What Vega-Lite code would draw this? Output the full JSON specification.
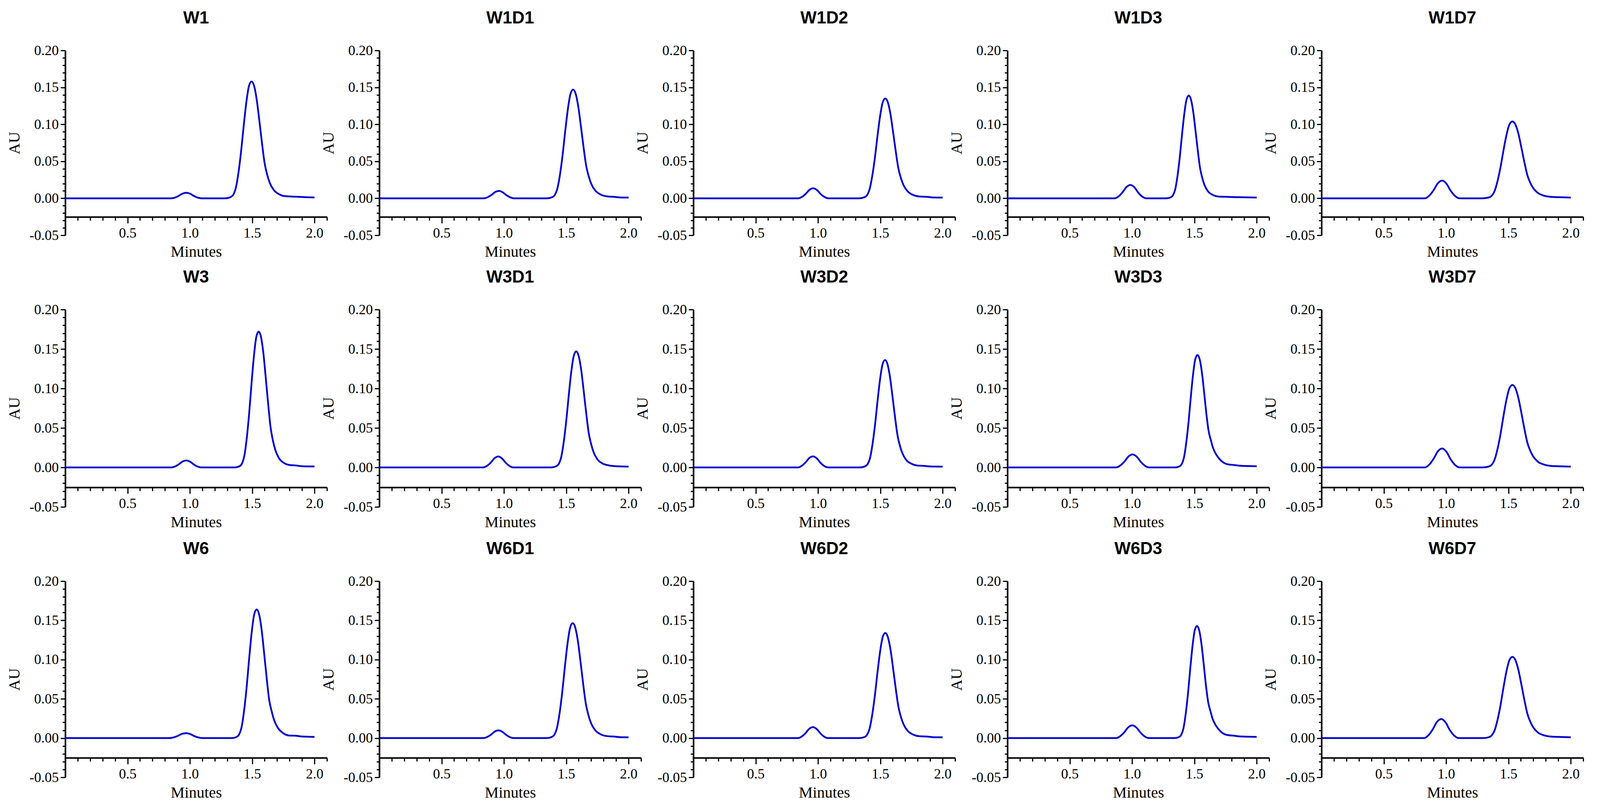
{
  "$schema": "https://vega.github.io/schema/vega-lite/v6.json",
  "description": "HPLC chromatograms, 15 samples, AU vs minutes.",
  "background": "white",
  "padding": {"left": 17, "top": 25, "right": 5, "bottom": 5},
  "config": {
    "view": {"stroke": null},
    "axis": {
      "grid": false,
      "domainColor": "black",
      "domainWidth": 4,
      "tickColor": "black",
      "tickWidth": 3,
      "labelColor": "black",
      "labelFont": "Liberation Serif",
      "labelFontSize": 36,
      "labelFlush": false,
      "labelOverlap": false,
      "labelBound": false,
      "titleFont": "Liberation Serif",
      "titleFontSize": 40,
      "titleFontWeight": "normal",
      "titleColor": "black"
    },
    "axisX": {"labelPadding": 8, "titlePadding": 10},
    "axisY": {"labelPadding": 5, "titlePadding": 18},
    "title": {"font": "Liberation Sans", "fontSize": 44, "fontWeight": "bold", "color": "black", "frame": "group", "offset": 42},
    "line": {"color": "#0000CC", "strokeWidth": 4.5, "interpolate": "monotone"}
  },
  "datasets": {
    "W1": [
      {"t": 0, "v": 0}, {"t": 0.852, "v": 0}, {"t": 0.882, "v": 0.0011}, {"t": 0.912, "v": 0.0034}, {"t": 0.942, "v": 0.0064}, {"t": 0.972, "v": 0.0075}, {"t": 1.002, "v": 0.0062}, {"t": 1.032, "v": 0.0032}, {"t": 1.062, "v": 0.001}, {"t": 1.092, "v": 0},
      {"t": 1.285, "v": 0}, {"t": 1.327, "v": 0.0016}, {"t": 1.348, "v": 0.0047}, {"t": 1.369, "v": 0.0142}, {"t": 1.39, "v": 0.0348}, {"t": 1.411, "v": 0.0632}, {"t": 1.432, "v": 0.098}, {"t": 1.453, "v": 0.1296}, {"t": 1.474, "v": 0.1517}, {"t": 1.495, "v": 0.158}, {"t": 1.516, "v": 0.1517}, {"t": 1.537, "v": 0.1327}, {"t": 1.558, "v": 0.1043}, {"t": 1.579, "v": 0.0743}, {"t": 1.6, "v": 0.0474}, {"t": 1.621, "v": 0.0316}, {"t": 1.642, "v": 0.0205}, {"t": 1.674, "v": 0.0111}, {"t": 1.716, "v": 0.0055}, {"t": 1.768, "v": 0.0028}, {"t": 1.85, "v": 0.0022}, {"t": 1.93, "v": 0.0015}, {"t": 2.0, "v": 0.0012}
    ],
    "W1D1": [
      {"t": 0, "v": 0}, {"t": 0.84, "v": 0}, {"t": 0.87, "v": 0.0015}, {"t": 0.9, "v": 0.0045}, {"t": 0.93, "v": 0.0085}, {"t": 0.96, "v": 0.01}, {"t": 0.99, "v": 0.0082}, {"t": 1.02, "v": 0.0042}, {"t": 1.05, "v": 0.0013}, {"t": 1.08, "v": 0},
      {"t": 1.345, "v": 0}, {"t": 1.387, "v": 0.0015}, {"t": 1.408, "v": 0.0044}, {"t": 1.429, "v": 0.0132}, {"t": 1.45, "v": 0.0323}, {"t": 1.471, "v": 0.0588}, {"t": 1.492, "v": 0.0911}, {"t": 1.513, "v": 0.1205}, {"t": 1.534, "v": 0.1411}, {"t": 1.555, "v": 0.147}, {"t": 1.576, "v": 0.1411}, {"t": 1.597, "v": 0.1235}, {"t": 1.618, "v": 0.097}, {"t": 1.639, "v": 0.0691}, {"t": 1.66, "v": 0.0441}, {"t": 1.681, "v": 0.0294}, {"t": 1.702, "v": 0.0191}, {"t": 1.734, "v": 0.0103}, {"t": 1.776, "v": 0.0051}, {"t": 1.828, "v": 0.0026}, {"t": 1.88, "v": 0.002}, {"t": 1.93, "v": 0.0012}, {"t": 2.0, "v": 0.001}
    ],
    "W1D2": [
      {"t": 0, "v": 0}, {"t": 0.842, "v": 0}, {"t": 0.872, "v": 0.002}, {"t": 0.902, "v": 0.0061}, {"t": 0.932, "v": 0.0115}, {"t": 0.962, "v": 0.0135}, {"t": 0.992, "v": 0.0111}, {"t": 1.022, "v": 0.0057}, {"t": 1.052, "v": 0.0018}, {"t": 1.082, "v": 0},
      {"t": 1.33, "v": 0}, {"t": 1.372, "v": 0.0014}, {"t": 1.393, "v": 0.0041}, {"t": 1.414, "v": 0.0122}, {"t": 1.435, "v": 0.0297}, {"t": 1.456, "v": 0.054}, {"t": 1.477, "v": 0.0837}, {"t": 1.498, "v": 0.1107}, {"t": 1.519, "v": 0.1296}, {"t": 1.54, "v": 0.135}, {"t": 1.561, "v": 0.1296}, {"t": 1.582, "v": 0.1134}, {"t": 1.603, "v": 0.0891}, {"t": 1.624, "v": 0.0635}, {"t": 1.645, "v": 0.0405}, {"t": 1.666, "v": 0.027}, {"t": 1.687, "v": 0.0176}, {"t": 1.719, "v": 0.0095}, {"t": 1.761, "v": 0.0047}, {"t": 1.813, "v": 0.0024}, {"t": 1.87, "v": 0.002}, {"t": 1.92, "v": 0.0012}, {"t": 2.0, "v": 0.001}
    ],
    "W1D3": [
      {"t": 0, "v": 0}, {"t": 0.861, "v": 0}, {"t": 0.893, "v": 0.0027}, {"t": 0.924, "v": 0.0081}, {"t": 0.956, "v": 0.0153}, {"t": 0.987, "v": 0.018}, {"t": 1.019, "v": 0.0148}, {"t": 1.05, "v": 0.0076}, {"t": 1.082, "v": 0.0023}, {"t": 1.113, "v": 0},
      {"t": 1.275, "v": 0}, {"t": 1.311, "v": 0.0014}, {"t": 1.329, "v": 0.0042}, {"t": 1.347, "v": 0.0125}, {"t": 1.365, "v": 0.0306}, {"t": 1.383, "v": 0.0556}, {"t": 1.401, "v": 0.0862}, {"t": 1.419, "v": 0.114}, {"t": 1.437, "v": 0.1334}, {"t": 1.455, "v": 0.139}, {"t": 1.473, "v": 0.1334}, {"t": 1.491, "v": 0.1168}, {"t": 1.509, "v": 0.0917}, {"t": 1.527, "v": 0.0653}, {"t": 1.545, "v": 0.0417}, {"t": 1.563, "v": 0.0278}, {"t": 1.581, "v": 0.0181}, {"t": 1.608, "v": 0.0097}, {"t": 1.644, "v": 0.0049}, {"t": 1.689, "v": 0.0025}, {"t": 1.75, "v": 0.002}, {"t": 1.85, "v": 0.0015}, {"t": 2.0, "v": 0.001}
    ],
    "W1D7": [
      {"t": 0, "v": 0}, {"t": 0.83, "v": 0}, {"t": 0.865, "v": 0.0036}, {"t": 0.899, "v": 0.0108}, {"t": 0.934, "v": 0.0204}, {"t": 0.968, "v": 0.024}, {"t": 1.003, "v": 0.0197}, {"t": 1.037, "v": 0.0101}, {"t": 1.072, "v": 0.0031}, {"t": 1.106, "v": 0},
      {"t": 1.292, "v": 0}, {"t": 1.34, "v": 0.001}, {"t": 1.364, "v": 0.0031}, {"t": 1.388, "v": 0.0094}, {"t": 1.412, "v": 0.0229}, {"t": 1.436, "v": 0.0416}, {"t": 1.46, "v": 0.0645}, {"t": 1.484, "v": 0.0853}, {"t": 1.508, "v": 0.0998}, {"t": 1.532, "v": 0.104}, {"t": 1.556, "v": 0.0998}, {"t": 1.58, "v": 0.0874}, {"t": 1.604, "v": 0.0686}, {"t": 1.628, "v": 0.0489}, {"t": 1.652, "v": 0.0312}, {"t": 1.676, "v": 0.0208}, {"t": 1.7, "v": 0.0135}, {"t": 1.736, "v": 0.0073}, {"t": 1.784, "v": 0.0036}, {"t": 1.844, "v": 0.0019}, {"t": 1.9, "v": 0.0015}, {"t": 2.0, "v": 0.001}
    ],
    "W3": [
      {"t": 0, "v": 0}, {"t": 0.852, "v": 0}, {"t": 0.882, "v": 0.0013}, {"t": 0.912, "v": 0.004}, {"t": 0.942, "v": 0.0075}, {"t": 0.972, "v": 0.0088}, {"t": 1.002, "v": 0.0072}, {"t": 1.032, "v": 0.0037}, {"t": 1.062, "v": 0.0011}, {"t": 1.092, "v": 0},
      {"t": 1.362, "v": 0}, {"t": 1.4, "v": 0.0017}, {"t": 1.419, "v": 0.0052}, {"t": 1.438, "v": 0.0155}, {"t": 1.457, "v": 0.0378}, {"t": 1.476, "v": 0.0688}, {"t": 1.495, "v": 0.1066}, {"t": 1.514, "v": 0.141}, {"t": 1.533, "v": 0.1651}, {"t": 1.552, "v": 0.172}, {"t": 1.571, "v": 0.1651}, {"t": 1.59, "v": 0.1445}, {"t": 1.609, "v": 0.1135}, {"t": 1.628, "v": 0.0808}, {"t": 1.647, "v": 0.0516}, {"t": 1.666, "v": 0.0344}, {"t": 1.685, "v": 0.0224}, {"t": 1.714, "v": 0.012}, {"t": 1.752, "v": 0.006}, {"t": 1.799, "v": 0.0031}, {"t": 1.85, "v": 0.0025}, {"t": 1.9, "v": 0.0015}, {"t": 2.0, "v": 0.0012}
    ],
    "W3D1": [
      {"t": 0, "v": 0}, {"t": 0.835, "v": 0}, {"t": 0.865, "v": 0.0021}, {"t": 0.895, "v": 0.0062}, {"t": 0.925, "v": 0.0117}, {"t": 0.955, "v": 0.0138}, {"t": 0.985, "v": 0.0113}, {"t": 1.015, "v": 0.0058}, {"t": 1.045, "v": 0.0018}, {"t": 1.075, "v": 0},
      {"t": 1.38, "v": 0}, {"t": 1.42, "v": 0.0015}, {"t": 1.44, "v": 0.0044}, {"t": 1.46, "v": 0.0132}, {"t": 1.48, "v": 0.0323}, {"t": 1.5, "v": 0.0588}, {"t": 1.52, "v": 0.0911}, {"t": 1.54, "v": 0.1205}, {"t": 1.56, "v": 0.1411}, {"t": 1.58, "v": 0.147}, {"t": 1.6, "v": 0.1411}, {"t": 1.62, "v": 0.1235}, {"t": 1.64, "v": 0.097}, {"t": 1.66, "v": 0.0691}, {"t": 1.68, "v": 0.0441}, {"t": 1.7, "v": 0.0294}, {"t": 1.72, "v": 0.0191}, {"t": 1.75, "v": 0.0103}, {"t": 1.79, "v": 0.0051}, {"t": 1.84, "v": 0.0026}, {"t": 1.9, "v": 0.0015}, {"t": 2.0, "v": 0.001}
    ],
    "W3D2": [
      {"t": 0, "v": 0}, {"t": 0.84, "v": 0}, {"t": 0.87, "v": 0.0021}, {"t": 0.9, "v": 0.0063}, {"t": 0.93, "v": 0.0119}, {"t": 0.96, "v": 0.014}, {"t": 0.99, "v": 0.0115}, {"t": 1.02, "v": 0.0059}, {"t": 1.05, "v": 0.0018}, {"t": 1.08, "v": 0},
      {"t": 1.338, "v": 0}, {"t": 1.378, "v": 0.0014}, {"t": 1.398, "v": 0.0041}, {"t": 1.418, "v": 0.0122}, {"t": 1.438, "v": 0.0299}, {"t": 1.458, "v": 0.0544}, {"t": 1.478, "v": 0.0843}, {"t": 1.498, "v": 0.1115}, {"t": 1.518, "v": 0.1306}, {"t": 1.538, "v": 0.136}, {"t": 1.558, "v": 0.1306}, {"t": 1.578, "v": 0.1142}, {"t": 1.598, "v": 0.0898}, {"t": 1.618, "v": 0.0639}, {"t": 1.638, "v": 0.0408}, {"t": 1.658, "v": 0.0272}, {"t": 1.678, "v": 0.0177}, {"t": 1.708, "v": 0.0095}, {"t": 1.748, "v": 0.0048}, {"t": 1.798, "v": 0.0024}, {"t": 1.85, "v": 0.002}, {"t": 1.9, "v": 0.0012}, {"t": 2.0, "v": 0.001}
    ],
    "W3D3": [
      {"t": 0, "v": 0}, {"t": 0.873, "v": 0}, {"t": 0.906, "v": 0.0025}, {"t": 0.939, "v": 0.0074}, {"t": 0.972, "v": 0.014}, {"t": 1.005, "v": 0.0165}, {"t": 1.038, "v": 0.0135}, {"t": 1.071, "v": 0.0069}, {"t": 1.104, "v": 0.0021}, {"t": 1.137, "v": 0},
      {"t": 1.345, "v": 0}, {"t": 1.381, "v": 0.0014}, {"t": 1.399, "v": 0.0043}, {"t": 1.417, "v": 0.0128}, {"t": 1.435, "v": 0.0314}, {"t": 1.453, "v": 0.057}, {"t": 1.471, "v": 0.0884}, {"t": 1.489, "v": 0.1169}, {"t": 1.507, "v": 0.1368}, {"t": 1.525, "v": 0.1425}, {"t": 1.543, "v": 0.1368}, {"t": 1.561, "v": 0.1197}, {"t": 1.579, "v": 0.0941}, {"t": 1.597, "v": 0.067}, {"t": 1.615, "v": 0.0456}, {"t": 1.633, "v": 0.0342}, {"t": 1.651, "v": 0.0242}, {"t": 1.678, "v": 0.0157}, {"t": 1.714, "v": 0.0086}, {"t": 1.759, "v": 0.0043}, {"t": 1.82, "v": 0.003}, {"t": 1.88, "v": 0.002}, {"t": 2.0, "v": 0.0015}
    ],
    "W3D7": [
      {"t": 0, "v": 0}, {"t": 0.83, "v": 0}, {"t": 0.865, "v": 0.0036}, {"t": 0.899, "v": 0.0108}, {"t": 0.934, "v": 0.0204}, {"t": 0.968, "v": 0.024}, {"t": 1.003, "v": 0.0197}, {"t": 1.037, "v": 0.0101}, {"t": 1.072, "v": 0.0031}, {"t": 1.106, "v": 0},
      {"t": 1.292, "v": 0}, {"t": 1.34, "v": 0.001}, {"t": 1.364, "v": 0.0031}, {"t": 1.388, "v": 0.0094}, {"t": 1.412, "v": 0.023}, {"t": 1.436, "v": 0.0418}, {"t": 1.46, "v": 0.0648}, {"t": 1.484, "v": 0.0857}, {"t": 1.508, "v": 0.1003}, {"t": 1.532, "v": 0.1045}, {"t": 1.556, "v": 0.1003}, {"t": 1.58, "v": 0.0878}, {"t": 1.604, "v": 0.069}, {"t": 1.628, "v": 0.0491}, {"t": 1.652, "v": 0.0314}, {"t": 1.676, "v": 0.0209}, {"t": 1.7, "v": 0.0136}, {"t": 1.736, "v": 0.0073}, {"t": 1.784, "v": 0.0037}, {"t": 1.844, "v": 0.0019}, {"t": 1.9, "v": 0.0015}, {"t": 2.0, "v": 0.001}
    ],
    "W6": [
      {"t": 0, "v": 0}, {"t": 0.837, "v": 0}, {"t": 0.87, "v": 0.0009}, {"t": 0.903, "v": 0.0028}, {"t": 0.936, "v": 0.0054}, {"t": 0.969, "v": 0.0063}, {"t": 1.002, "v": 0.0052}, {"t": 1.035, "v": 0.0026}, {"t": 1.068, "v": 0.0008}, {"t": 1.101, "v": 0},
      {"t": 1.336, "v": 0}, {"t": 1.376, "v": 0.0016}, {"t": 1.396, "v": 0.0049}, {"t": 1.416, "v": 0.0148}, {"t": 1.436, "v": 0.0361}, {"t": 1.456, "v": 0.0656}, {"t": 1.476, "v": 0.1017}, {"t": 1.496, "v": 0.1345}, {"t": 1.516, "v": 0.1574}, {"t": 1.536, "v": 0.164}, {"t": 1.556, "v": 0.1574}, {"t": 1.576, "v": 0.1378}, {"t": 1.596, "v": 0.1082}, {"t": 1.616, "v": 0.0771}, {"t": 1.636, "v": 0.0492}, {"t": 1.656, "v": 0.0344}, {"t": 1.676, "v": 0.023}, {"t": 1.706, "v": 0.0131}, {"t": 1.746, "v": 0.0066}, {"t": 1.796, "v": 0.0033}, {"t": 1.85, "v": 0.003}, {"t": 1.9, "v": 0.002}, {"t": 2.0, "v": 0.0015}
    ],
    "W6D1": [
      {"t": 0, "v": 0}, {"t": 0.837, "v": 0}, {"t": 0.867, "v": 0.0015}, {"t": 0.897, "v": 0.0045}, {"t": 0.927, "v": 0.0084}, {"t": 0.957, "v": 0.0099}, {"t": 0.987, "v": 0.0081}, {"t": 1.017, "v": 0.0042}, {"t": 1.047, "v": 0.0013}, {"t": 1.077, "v": 0},
      {"t": 1.342, "v": 0}, {"t": 1.384, "v": 0.0015}, {"t": 1.405, "v": 0.0044}, {"t": 1.426, "v": 0.0132}, {"t": 1.447, "v": 0.0322}, {"t": 1.468, "v": 0.0586}, {"t": 1.489, "v": 0.0908}, {"t": 1.51, "v": 0.1201}, {"t": 1.531, "v": 0.1406}, {"t": 1.552, "v": 0.1465}, {"t": 1.573, "v": 0.1406}, {"t": 1.594, "v": 0.1231}, {"t": 1.615, "v": 0.0967}, {"t": 1.636, "v": 0.0689}, {"t": 1.657, "v": 0.044}, {"t": 1.678, "v": 0.0293}, {"t": 1.699, "v": 0.019}, {"t": 1.731, "v": 0.0103}, {"t": 1.773, "v": 0.0051}, {"t": 1.825, "v": 0.0026}, {"t": 1.88, "v": 0.002}, {"t": 1.93, "v": 0.0012}, {"t": 2.0, "v": 0.001}
    ],
    "W6D2": [
      {"t": 0, "v": 0}, {"t": 0.84, "v": 0}, {"t": 0.87, "v": 0.0021}, {"t": 0.9, "v": 0.0063}, {"t": 0.93, "v": 0.0119}, {"t": 0.96, "v": 0.014}, {"t": 0.99, "v": 0.0115}, {"t": 1.02, "v": 0.0059}, {"t": 1.05, "v": 0.0018}, {"t": 1.08, "v": 0},
      {"t": 1.33, "v": 0}, {"t": 1.372, "v": 0.0013}, {"t": 1.393, "v": 0.004}, {"t": 1.414, "v": 0.0121}, {"t": 1.435, "v": 0.0295}, {"t": 1.456, "v": 0.0536}, {"t": 1.477, "v": 0.0831}, {"t": 1.498, "v": 0.1099}, {"t": 1.519, "v": 0.1286}, {"t": 1.54, "v": 0.134}, {"t": 1.561, "v": 0.1286}, {"t": 1.582, "v": 0.1126}, {"t": 1.603, "v": 0.0884}, {"t": 1.624, "v": 0.063}, {"t": 1.645, "v": 0.0402}, {"t": 1.666, "v": 0.0268}, {"t": 1.687, "v": 0.0174}, {"t": 1.719, "v": 0.0094}, {"t": 1.761, "v": 0.0047}, {"t": 1.813, "v": 0.0024}, {"t": 1.87, "v": 0.002}, {"t": 1.92, "v": 0.0012}, {"t": 2.0, "v": 0.001}
    ],
    "W6D3": [
      {"t": 0, "v": 0}, {"t": 0.871, "v": 0}, {"t": 0.904, "v": 0.0024}, {"t": 0.937, "v": 0.0073}, {"t": 0.97, "v": 0.0138}, {"t": 1.003, "v": 0.0162}, {"t": 1.036, "v": 0.0133}, {"t": 1.069, "v": 0.0068}, {"t": 1.102, "v": 0.0021}, {"t": 1.135, "v": 0},
      {"t": 1.341, "v": 0}, {"t": 1.377, "v": 0.0014}, {"t": 1.395, "v": 0.0043}, {"t": 1.413, "v": 0.0129}, {"t": 1.431, "v": 0.0314}, {"t": 1.449, "v": 0.0571}, {"t": 1.467, "v": 0.0885}, {"t": 1.485, "v": 0.1171}, {"t": 1.503, "v": 0.1371}, {"t": 1.521, "v": 0.1428}, {"t": 1.539, "v": 0.1371}, {"t": 1.557, "v": 0.12}, {"t": 1.575, "v": 0.0942}, {"t": 1.593, "v": 0.0671}, {"t": 1.611, "v": 0.0457}, {"t": 1.629, "v": 0.0343}, {"t": 1.647, "v": 0.0243}, {"t": 1.674, "v": 0.0157}, {"t": 1.71, "v": 0.0086}, {"t": 1.755, "v": 0.0043}, {"t": 1.82, "v": 0.003}, {"t": 1.88, "v": 0.002}, {"t": 2.0, "v": 0.0015}
    ],
    "W6D7": [
      {"t": 0, "v": 0}, {"t": 0.823, "v": 0}, {"t": 0.858, "v": 0.0036}, {"t": 0.892, "v": 0.0109}, {"t": 0.927, "v": 0.0207}, {"t": 0.961, "v": 0.0243}, {"t": 0.996, "v": 0.0199}, {"t": 1.03, "v": 0.0102}, {"t": 1.065, "v": 0.0032}, {"t": 1.099, "v": 0},
      {"t": 1.292, "v": 0}, {"t": 1.34, "v": 0.001}, {"t": 1.364, "v": 0.0031}, {"t": 1.388, "v": 0.0093}, {"t": 1.412, "v": 0.0228}, {"t": 1.436, "v": 0.0414}, {"t": 1.46, "v": 0.0642}, {"t": 1.484, "v": 0.0849}, {"t": 1.508, "v": 0.0994}, {"t": 1.532, "v": 0.1035}, {"t": 1.556, "v": 0.0994}, {"t": 1.58, "v": 0.0869}, {"t": 1.604, "v": 0.0683}, {"t": 1.628, "v": 0.0486}, {"t": 1.652, "v": 0.0311}, {"t": 1.676, "v": 0.0207}, {"t": 1.7, "v": 0.0135}, {"t": 1.736, "v": 0.0072}, {"t": 1.784, "v": 0.0036}, {"t": 1.844, "v": 0.0019}, {"t": 1.9, "v": 0.0015}, {"t": 2.0, "v": 0.001}
    ]
  },
  "columns": 5,
  "spacing": {"row": 190, "column": 134},
  "bounds": "flush",
  "concat": [
    {"title": "W1", "width": 670, "height": 473, "data": {"name": "W1"}, "mark": "line",
     "encoding": {
       "x": {"field": "t", "type": "quantitative", "scale": {"domain": [0, 2.1], "nice": false}, "axis": {"title": "Minutes", "offset": -47, "values": [0.1,0.2,0.3,0.4,0.5,0.6,0.7,0.8,0.9,1.0,1.1,1.2,1.3,1.4,1.5,1.6,1.7,1.8,1.9,2.0,2.1], "labelExpr": "abs(datum.value*2-round(datum.value*2))<0.001 ? format(datum.value,'.1f') : ''", "tickSize": {"condition": {"test": "abs(datum.value*2-round(datum.value*2))<0.001", "value": 16}, "value": 9}}},
       "y": {"field": "v", "type": "quantitative", "scale": {"domain": [-0.05, 0.2], "nice": false}, "axis": {"title": "AU", "values": [-0.05,-0.04,-0.03,-0.02,-0.01,0,0.01,0.02,0.03,0.04,0.05,0.06,0.07,0.08,0.09,0.1,0.11,0.12,0.13,0.14,0.15,0.16,0.17,0.18,0.19,0.2], "labelExpr": "abs(datum.value*20-round(datum.value*20))<0.001 ? (datum.value < -0.001 ? '-' : '') + format(abs(datum.value),'.2f') : ''", "tickSize": {"condition": {"test": "abs(datum.value*20-round(datum.value*20))<0.001", "value": 12}, "value": 7}}}
     }},
    {"title": "W1D1", "width": 670, "height": 473, "data": {"name": "W1D1"}, "mark": "line",
     "encoding": {
       "x": {"field": "t", "type": "quantitative", "scale": {"domain": [0, 2.1], "nice": false}, "axis": {"title": "Minutes", "offset": -47, "values": [0.1,0.2,0.3,0.4,0.5,0.6,0.7,0.8,0.9,1.0,1.1,1.2,1.3,1.4,1.5,1.6,1.7,1.8,1.9,2.0,2.1], "labelExpr": "abs(datum.value*2-round(datum.value*2))<0.001 ? format(datum.value,'.1f') : ''", "tickSize": {"condition": {"test": "abs(datum.value*2-round(datum.value*2))<0.001", "value": 16}, "value": 9}}},
       "y": {"field": "v", "type": "quantitative", "scale": {"domain": [-0.05, 0.2], "nice": false}, "axis": {"title": "AU", "values": [-0.05,-0.04,-0.03,-0.02,-0.01,0,0.01,0.02,0.03,0.04,0.05,0.06,0.07,0.08,0.09,0.1,0.11,0.12,0.13,0.14,0.15,0.16,0.17,0.18,0.19,0.2], "labelExpr": "abs(datum.value*20-round(datum.value*20))<0.001 ? (datum.value < -0.001 ? '-' : '') + format(abs(datum.value),'.2f') : ''", "tickSize": {"condition": {"test": "abs(datum.value*20-round(datum.value*20))<0.001", "value": 12}, "value": 7}}}
     }},
    {"title": "W1D2", "width": 670, "height": 473, "data": {"name": "W1D2"}, "mark": "line",
     "encoding": {
       "x": {"field": "t", "type": "quantitative", "scale": {"domain": [0, 2.1], "nice": false}, "axis": {"title": "Minutes", "offset": -47, "values": [0.1,0.2,0.3,0.4,0.5,0.6,0.7,0.8,0.9,1.0,1.1,1.2,1.3,1.4,1.5,1.6,1.7,1.8,1.9,2.0,2.1], "labelExpr": "abs(datum.value*2-round(datum.value*2))<0.001 ? format(datum.value,'.1f') : ''", "tickSize": {"condition": {"test": "abs(datum.value*2-round(datum.value*2))<0.001", "value": 16}, "value": 9}}},
       "y": {"field": "v", "type": "quantitative", "scale": {"domain": [-0.05, 0.2], "nice": false}, "axis": {"title": "AU", "values": [-0.05,-0.04,-0.03,-0.02,-0.01,0,0.01,0.02,0.03,0.04,0.05,0.06,0.07,0.08,0.09,0.1,0.11,0.12,0.13,0.14,0.15,0.16,0.17,0.18,0.19,0.2], "labelExpr": "abs(datum.value*20-round(datum.value*20))<0.001 ? (datum.value < -0.001 ? '-' : '') + format(abs(datum.value),'.2f') : ''", "tickSize": {"condition": {"test": "abs(datum.value*20-round(datum.value*20))<0.001", "value": 12}, "value": 7}}}
     }},
    {"title": "W1D3", "width": 670, "height": 473, "data": {"name": "W1D3"}, "mark": "line",
     "encoding": {
       "x": {"field": "t", "type": "quantitative", "scale": {"domain": [0, 2.1], "nice": false}, "axis": {"title": "Minutes", "offset": -47, "values": [0.1,0.2,0.3,0.4,0.5,0.6,0.7,0.8,0.9,1.0,1.1,1.2,1.3,1.4,1.5,1.6,1.7,1.8,1.9,2.0,2.1], "labelExpr": "abs(datum.value*2-round(datum.value*2))<0.001 ? format(datum.value,'.1f') : ''", "tickSize": {"condition": {"test": "abs(datum.value*2-round(datum.value*2))<0.001", "value": 16}, "value": 9}}},
       "y": {"field": "v", "type": "quantitative", "scale": {"domain": [-0.05, 0.2], "nice": false}, "axis": {"title": "AU", "values": [-0.05,-0.04,-0.03,-0.02,-0.01,0,0.01,0.02,0.03,0.04,0.05,0.06,0.07,0.08,0.09,0.1,0.11,0.12,0.13,0.14,0.15,0.16,0.17,0.18,0.19,0.2], "labelExpr": "abs(datum.value*20-round(datum.value*20))<0.001 ? (datum.value < -0.001 ? '-' : '') + format(abs(datum.value),'.2f') : ''", "tickSize": {"condition": {"test": "abs(datum.value*20-round(datum.value*20))<0.001", "value": 12}, "value": 7}}}
     }},
    {"title": "W1D7", "width": 670, "height": 473, "data": {"name": "W1D7"}, "mark": "line",
     "encoding": {
       "x": {"field": "t", "type": "quantitative", "scale": {"domain": [0, 2.1], "nice": false}, "axis": {"title": "Minutes", "offset": -47, "values": [0.1,0.2,0.3,0.4,0.5,0.6,0.7,0.8,0.9,1.0,1.1,1.2,1.3,1.4,1.5,1.6,1.7,1.8,1.9,2.0,2.1], "labelExpr": "abs(datum.value*2-round(datum.value*2))<0.001 ? format(datum.value,'.1f') : ''", "tickSize": {"condition": {"test": "abs(datum.value*2-round(datum.value*2))<0.001", "value": 16}, "value": 9}}},
       "y": {"field": "v", "type": "quantitative", "scale": {"domain": [-0.05, 0.2], "nice": false}, "axis": {"title": "AU", "values": [-0.05,-0.04,-0.03,-0.02,-0.01,0,0.01,0.02,0.03,0.04,0.05,0.06,0.07,0.08,0.09,0.1,0.11,0.12,0.13,0.14,0.15,0.16,0.17,0.18,0.19,0.2], "labelExpr": "abs(datum.value*20-round(datum.value*20))<0.001 ? (datum.value < -0.001 ? '-' : '') + format(abs(datum.value),'.2f') : ''", "tickSize": {"condition": {"test": "abs(datum.value*20-round(datum.value*20))<0.001", "value": 12}, "value": 7}}}
     }},
    {"title": "W3", "width": 670, "height": 505, "data": {"name": "W3"}, "mark": "line",
     "encoding": {
       "x": {"field": "t", "type": "quantitative", "scale": {"domain": [0, 2.1], "nice": false}, "axis": {"title": "Minutes", "offset": -50, "values": [0.1,0.2,0.3,0.4,0.5,0.6,0.7,0.8,0.9,1.0,1.1,1.2,1.3,1.4,1.5,1.6,1.7,1.8,1.9,2.0,2.1], "labelExpr": "abs(datum.value*2-round(datum.value*2))<0.001 ? format(datum.value,'.1f') : ''", "tickSize": {"condition": {"test": "abs(datum.value*2-round(datum.value*2))<0.001", "value": 16}, "value": 9}}},
       "y": {"field": "v", "type": "quantitative", "scale": {"domain": [-0.05, 0.2], "nice": false}, "axis": {"title": "AU", "values": [-0.05,-0.04,-0.03,-0.02,-0.01,0,0.01,0.02,0.03,0.04,0.05,0.06,0.07,0.08,0.09,0.1,0.11,0.12,0.13,0.14,0.15,0.16,0.17,0.18,0.19,0.2], "labelExpr": "abs(datum.value*20-round(datum.value*20))<0.001 ? (datum.value < -0.001 ? '-' : '') + format(abs(datum.value),'.2f') : ''", "tickSize": {"condition": {"test": "abs(datum.value*20-round(datum.value*20))<0.001", "value": 12}, "value": 7}}}
     }},
    {"title": "W3D1", "width": 670, "height": 505, "data": {"name": "W3D1"}, "mark": "line",
     "encoding": {
       "x": {"field": "t", "type": "quantitative", "scale": {"domain": [0, 2.1], "nice": false}, "axis": {"title": "Minutes", "offset": -50, "values": [0.1,0.2,0.3,0.4,0.5,0.6,0.7,0.8,0.9,1.0,1.1,1.2,1.3,1.4,1.5,1.6,1.7,1.8,1.9,2.0,2.1], "labelExpr": "abs(datum.value*2-round(datum.value*2))<0.001 ? format(datum.value,'.1f') : ''", "tickSize": {"condition": {"test": "abs(datum.value*2-round(datum.value*2))<0.001", "value": 16}, "value": 9}}},
       "y": {"field": "v", "type": "quantitative", "scale": {"domain": [-0.05, 0.2], "nice": false}, "axis": {"title": "AU", "values": [-0.05,-0.04,-0.03,-0.02,-0.01,0,0.01,0.02,0.03,0.04,0.05,0.06,0.07,0.08,0.09,0.1,0.11,0.12,0.13,0.14,0.15,0.16,0.17,0.18,0.19,0.2], "labelExpr": "abs(datum.value*20-round(datum.value*20))<0.001 ? (datum.value < -0.001 ? '-' : '') + format(abs(datum.value),'.2f') : ''", "tickSize": {"condition": {"test": "abs(datum.value*20-round(datum.value*20))<0.001", "value": 12}, "value": 7}}}
     }},
    {"title": "W3D2", "width": 670, "height": 505, "data": {"name": "W3D2"}, "mark": "line",
     "encoding": {
       "x": {"field": "t", "type": "quantitative", "scale": {"domain": [0, 2.1], "nice": false}, "axis": {"title": "Minutes", "offset": -50, "values": [0.1,0.2,0.3,0.4,0.5,0.6,0.7,0.8,0.9,1.0,1.1,1.2,1.3,1.4,1.5,1.6,1.7,1.8,1.9,2.0,2.1], "labelExpr": "abs(datum.value*2-round(datum.value*2))<0.001 ? format(datum.value,'.1f') : ''", "tickSize": {"condition": {"test": "abs(datum.value*2-round(datum.value*2))<0.001", "value": 16}, "value": 9}}},
       "y": {"field": "v", "type": "quantitative", "scale": {"domain": [-0.05, 0.2], "nice": false}, "axis": {"title": "AU", "values": [-0.05,-0.04,-0.03,-0.02,-0.01,0,0.01,0.02,0.03,0.04,0.05,0.06,0.07,0.08,0.09,0.1,0.11,0.12,0.13,0.14,0.15,0.16,0.17,0.18,0.19,0.2], "labelExpr": "abs(datum.value*20-round(datum.value*20))<0.001 ? (datum.value < -0.001 ? '-' : '') + format(abs(datum.value),'.2f') : ''", "tickSize": {"condition": {"test": "abs(datum.value*20-round(datum.value*20))<0.001", "value": 12}, "value": 7}}}
     }},
    {"title": "W3D3", "width": 670, "height": 505, "data": {"name": "W3D3"}, "mark": "line",
     "encoding": {
       "x": {"field": "t", "type": "quantitative", "scale": {"domain": [0, 2.1], "nice": false}, "axis": {"title": "Minutes", "offset": -50, "values": [0.1,0.2,0.3,0.4,0.5,0.6,0.7,0.8,0.9,1.0,1.1,1.2,1.3,1.4,1.5,1.6,1.7,1.8,1.9,2.0,2.1], "labelExpr": "abs(datum.value*2-round(datum.value*2))<0.001 ? format(datum.value,'.1f') : ''", "tickSize": {"condition": {"test": "abs(datum.value*2-round(datum.value*2))<0.001", "value": 16}, "value": 9}}},
       "y": {"field": "v", "type": "quantitative", "scale": {"domain": [-0.05, 0.2], "nice": false}, "axis": {"title": "AU", "values": [-0.05,-0.04,-0.03,-0.02,-0.01,0,0.01,0.02,0.03,0.04,0.05,0.06,0.07,0.08,0.09,0.1,0.11,0.12,0.13,0.14,0.15,0.16,0.17,0.18,0.19,0.2], "labelExpr": "abs(datum.value*20-round(datum.value*20))<0.001 ? (datum.value < -0.001 ? '-' : '') + format(abs(datum.value),'.2f') : ''", "tickSize": {"condition": {"test": "abs(datum.value*20-round(datum.value*20))<0.001", "value": 12}, "value": 7}}}
     }},
    {"title": "W3D7", "width": 670, "height": 505, "data": {"name": "W3D7"}, "mark": "line",
     "encoding": {
       "x": {"field": "t", "type": "quantitative", "scale": {"domain": [0, 2.1], "nice": false}, "axis": {"title": "Minutes", "offset": -50, "values": [0.1,0.2,0.3,0.4,0.5,0.6,0.7,0.8,0.9,1.0,1.1,1.2,1.3,1.4,1.5,1.6,1.7,1.8,1.9,2.0,2.1], "labelExpr": "abs(datum.value*2-round(datum.value*2))<0.001 ? format(datum.value,'.1f') : ''", "tickSize": {"condition": {"test": "abs(datum.value*2-round(datum.value*2))<0.001", "value": 16}, "value": 9}}},
       "y": {"field": "v", "type": "quantitative", "scale": {"domain": [-0.05, 0.2], "nice": false}, "axis": {"title": "AU", "values": [-0.05,-0.04,-0.03,-0.02,-0.01,0,0.01,0.02,0.03,0.04,0.05,0.06,0.07,0.08,0.09,0.1,0.11,0.12,0.13,0.14,0.15,0.16,0.17,0.18,0.19,0.2], "labelExpr": "abs(datum.value*20-round(datum.value*20))<0.001 ? (datum.value < -0.001 ? '-' : '') + format(abs(datum.value),'.2f') : ''", "tickSize": {"condition": {"test": "abs(datum.value*20-round(datum.value*20))<0.001", "value": 12}, "value": 7}}}
     }},
    {"title": "W6", "width": 670, "height": 502, "data": {"name": "W6"}, "mark": "line",
     "encoding": {
       "x": {"field": "t", "type": "quantitative", "scale": {"domain": [0, 2.1], "nice": false}, "axis": {"title": "Minutes", "offset": -50, "values": [0.1,0.2,0.3,0.4,0.5,0.6,0.7,0.8,0.9,1.0,1.1,1.2,1.3,1.4,1.5,1.6,1.7,1.8,1.9,2.0,2.1], "labelExpr": "abs(datum.value*2-round(datum.value*2))<0.001 ? format(datum.value,'.1f') : ''", "tickSize": {"condition": {"test": "abs(datum.value*2-round(datum.value*2))<0.001", "value": 16}, "value": 9}}},
       "y": {"field": "v", "type": "quantitative", "scale": {"domain": [-0.05, 0.2], "nice": false}, "axis": {"title": "AU", "values": [-0.05,-0.04,-0.03,-0.02,-0.01,0,0.01,0.02,0.03,0.04,0.05,0.06,0.07,0.08,0.09,0.1,0.11,0.12,0.13,0.14,0.15,0.16,0.17,0.18,0.19,0.2], "labelExpr": "abs(datum.value*20-round(datum.value*20))<0.001 ? (datum.value < -0.001 ? '-' : '') + format(abs(datum.value),'.2f') : ''", "tickSize": {"condition": {"test": "abs(datum.value*20-round(datum.value*20))<0.001", "value": 12}, "value": 7}}}
     }},
    {"title": "W6D1", "width": 670, "height": 502, "data": {"name": "W6D1"}, "mark": "line",
     "encoding": {
       "x": {"field": "t", "type": "quantitative", "scale": {"domain": [0, 2.1], "nice": false}, "axis": {"title": "Minutes", "offset": -50, "values": [0.1,0.2,0.3,0.4,0.5,0.6,0.7,0.8,0.9,1.0,1.1,1.2,1.3,1.4,1.5,1.6,1.7,1.8,1.9,2.0,2.1], "labelExpr": "abs(datum.value*2-round(datum.value*2))<0.001 ? format(datum.value,'.1f') : ''", "tickSize": {"condition": {"test": "abs(datum.value*2-round(datum.value*2))<0.001", "value": 16}, "value": 9}}},
       "y": {"field": "v", "type": "quantitative", "scale": {"domain": [-0.05, 0.2], "nice": false}, "axis": {"title": "AU", "values": [-0.05,-0.04,-0.03,-0.02,-0.01,0,0.01,0.02,0.03,0.04,0.05,0.06,0.07,0.08,0.09,0.1,0.11,0.12,0.13,0.14,0.15,0.16,0.17,0.18,0.19,0.2], "labelExpr": "abs(datum.value*20-round(datum.value*20))<0.001 ? (datum.value < -0.001 ? '-' : '') + format(abs(datum.value),'.2f') : ''", "tickSize": {"condition": {"test": "abs(datum.value*20-round(datum.value*20))<0.001", "value": 12}, "value": 7}}}
     }},
    {"title": "W6D2", "width": 670, "height": 502, "data": {"name": "W6D2"}, "mark": "line",
     "encoding": {
       "x": {"field": "t", "type": "quantitative", "scale": {"domain": [0, 2.1], "nice": false}, "axis": {"title": "Minutes", "offset": -50, "values": [0.1,0.2,0.3,0.4,0.5,0.6,0.7,0.8,0.9,1.0,1.1,1.2,1.3,1.4,1.5,1.6,1.7,1.8,1.9,2.0,2.1], "labelExpr": "abs(datum.value*2-round(datum.value*2))<0.001 ? format(datum.value,'.1f') : ''", "tickSize": {"condition": {"test": "abs(datum.value*2-round(datum.value*2))<0.001", "value": 16}, "value": 9}}},
       "y": {"field": "v", "type": "quantitative", "scale": {"domain": [-0.05, 0.2], "nice": false}, "axis": {"title": "AU", "values": [-0.05,-0.04,-0.03,-0.02,-0.01,0,0.01,0.02,0.03,0.04,0.05,0.06,0.07,0.08,0.09,0.1,0.11,0.12,0.13,0.14,0.15,0.16,0.17,0.18,0.19,0.2], "labelExpr": "abs(datum.value*20-round(datum.value*20))<0.001 ? (datum.value < -0.001 ? '-' : '') + format(abs(datum.value),'.2f') : ''", "tickSize": {"condition": {"test": "abs(datum.value*20-round(datum.value*20))<0.001", "value": 12}, "value": 7}}}
     }},
    {"title": "W6D3", "width": 670, "height": 502, "data": {"name": "W6D3"}, "mark": "line",
     "encoding": {
       "x": {"field": "t", "type": "quantitative", "scale": {"domain": [0, 2.1], "nice": false}, "axis": {"title": "Minutes", "offset": -50, "values": [0.1,0.2,0.3,0.4,0.5,0.6,0.7,0.8,0.9,1.0,1.1,1.2,1.3,1.4,1.5,1.6,1.7,1.8,1.9,2.0,2.1], "labelExpr": "abs(datum.value*2-round(datum.value*2))<0.001 ? format(datum.value,'.1f') : ''", "tickSize": {"condition": {"test": "abs(datum.value*2-round(datum.value*2))<0.001", "value": 16}, "value": 9}}},
       "y": {"field": "v", "type": "quantitative", "scale": {"domain": [-0.05, 0.2], "nice": false}, "axis": {"title": "AU", "values": [-0.05,-0.04,-0.03,-0.02,-0.01,0,0.01,0.02,0.03,0.04,0.05,0.06,0.07,0.08,0.09,0.1,0.11,0.12,0.13,0.14,0.15,0.16,0.17,0.18,0.19,0.2], "labelExpr": "abs(datum.value*20-round(datum.value*20))<0.001 ? (datum.value < -0.001 ? '-' : '') + format(abs(datum.value),'.2f') : ''", "tickSize": {"condition": {"test": "abs(datum.value*20-round(datum.value*20))<0.001", "value": 12}, "value": 7}}}
     }},
    {"title": "W6D7", "width": 670, "height": 502, "data": {"name": "W6D7"}, "mark": "line",
     "encoding": {
       "x": {"field": "t", "type": "quantitative", "scale": {"domain": [0, 2.1], "nice": false}, "axis": {"title": "Minutes", "offset": -50, "values": [0.1,0.2,0.3,0.4,0.5,0.6,0.7,0.8,0.9,1.0,1.1,1.2,1.3,1.4,1.5,1.6,1.7,1.8,1.9,2.0,2.1], "labelExpr": "abs(datum.value*2-round(datum.value*2))<0.001 ? format(datum.value,'.1f') : ''", "tickSize": {"condition": {"test": "abs(datum.value*2-round(datum.value*2))<0.001", "value": 16}, "value": 9}}},
       "y": {"field": "v", "type": "quantitative", "scale": {"domain": [-0.05, 0.2], "nice": false}, "axis": {"title": "AU", "values": [-0.05,-0.04,-0.03,-0.02,-0.01,0,0.01,0.02,0.03,0.04,0.05,0.06,0.07,0.08,0.09,0.1,0.11,0.12,0.13,0.14,0.15,0.16,0.17,0.18,0.19,0.2], "labelExpr": "abs(datum.value*20-round(datum.value*20))<0.001 ? (datum.value < -0.001 ? '-' : '') + format(abs(datum.value),'.2f') : ''", "tickSize": {"condition": {"test": "abs(datum.value*20-round(datum.value*20))<0.001", "value": 12}, "value": 7}}}
     }}
  ]
}
